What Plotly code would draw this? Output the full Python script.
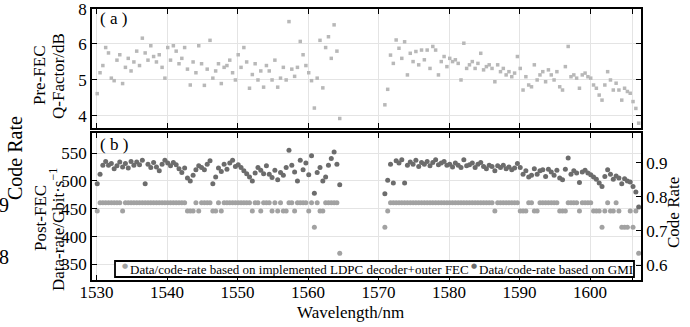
import plotly.graph_objects as go

# ---------------- data ----------------
# channel wavelengths (nm): C-band block and L-band block
wl_c = [round(1530.1 + 0.4 * i, 1) for i in range(87)]
wl_l = [round(1570.9 + 0.4 * i, 1) for i in range(91)]
wavelength = wl_c + wl_l

# (a) Pre-FEC Q-factor (dB)
q_c = [4.62, 5.20, 5.40, 5.90, 5.75, 5.05, 4.98, 5.55, 5.70, 4.90,
       5.35, 5.60, 5.25, 5.50, 5.80, 5.40, 6.16, 5.75, 5.55, 5.95,
       5.65, 5.50, 5.70, 5.35, 5.05, 5.90, 5.55, 5.95, 5.80, 5.45,
       5.60, 5.90, 5.30, 4.86, 5.50, 5.20, 5.95, 5.45, 4.85, 5.30,
       6.10, 5.05, 5.25, 5.45, 4.90, 5.35, 5.40, 5.55, 5.20, 5.00,
       5.70, 5.35, 5.90, 5.50, 4.77, 5.15, 5.45, 5.00, 5.25, 4.80,
       5.40, 5.25, 5.00, 5.55, 4.80, 5.05, 5.35, 5.00, 6.62, 5.30,
       5.10, 5.35, 6.07, 5.70, 5.40, 5.20, 4.98, 4.22, 5.05, 6.10,
       4.78, 5.90, 6.20, 5.60, 6.53, 5.80, 3.93]
q_l = [4.31, 4.74, 5.69, 5.46, 6.11, 5.88, 5.60, 6.06, 5.14, 5.74,
       5.51, 5.79, 5.42, 5.83, 5.56, 5.83, 5.32, 5.93, 5.83, 5.14,
       5.51, 5.65, 5.37, 5.60, 5.51, 5.56, 5.46, 5.00, 6.02, 5.32,
       5.42, 5.51, 5.32, 5.46, 5.74, 5.28, 5.37, 5.42, 5.32, 4.95,
       5.42, 5.23, 5.32, 5.14, 5.23, 5.09, 5.19, 5.65, 5.32, 4.72,
       5.09, 4.86, 4.81, 5.42, 5.00, 5.14, 5.23, 4.95, 5.28, 5.14,
       5.00, 5.23, 4.81, 4.72, 5.37, 5.93, 5.09, 5.14, 5.05, 4.77,
       5.14, 5.19, 5.09, 5.05, 4.86, 4.77, 4.58, 4.44, 4.86, 5.23,
       5.00, 4.72, 4.91, 4.72, 4.44, 4.77, 4.68, 4.63, 4.40, 4.21, 3.80]
q_factor = q_c + q_l

# (b) Post-FEC data rate (Gbit/s) based on GMI
gmi_c = [495, 512, 528, 535, 528, 531, 522, 527, 534, 525,
         531, 523, 535, 528, 534, 529, 537, 495, 530, 524,
         533, 525, 518, 530, 537, 532, 527, 533, 529, 522,
         515, 523, 505, 500, 510, 520, 527, 524, 520, 530,
         536, 495, 507, 523, 517, 530, 521, 532, 537, 526,
         529, 524, 518, 513, 507, 500, 514, 524, 519, 513,
         527, 512, 506, 519, 502, 515, 510, 524, 555, 528,
         516, 500, 537, 520, 532, 511, 545, 478, 515, 524,
         500, 507, 528, 540, 552, 530, 493]
gmi_l = [477, 501, 530, 496, 536, 532, 538, 496, 528, 534,
         530, 537, 526, 533, 530, 535, 527, 533, 538, 529,
         532, 535, 528, 530, 525, 532, 528, 524, 538, 527,
         529, 532, 524, 530, 533, 526, 522, 528, 526, 518,
         527, 524, 528, 522, 525, 520, 523, 531, 524, 512,
         518, 507, 510, 522, 512, 518, 520, 508, 521, 516,
         510, 519, 505, 502, 521, 541, 512, 518, 514, 497,
         516, 519, 514, 511, 507, 503, 496, 490, 508, 520,
         512, 503, 509, 505, 495, 504, 500, 498, 490, 480, 453]
rate_gmi = gmi_c + gmi_l

# (b) Post-FEC data rate (Gbit/s) with implemented LDPC decoder + outer FEC
ldpc_c = [446, 461, 461, 461, 461, 461, 461, 461, 461, 446,
          461, 461, 461, 461, 461, 461, 461, 461, 461, 461,
          461, 461, 461, 461, 461, 461, 461, 461, 461, 461,
          461, 461, 446, 446, 446, 461, 446, 461, 461, 461,
          461, 446, 446, 461, 446, 461, 461, 461, 461, 461,
          461, 461, 461, 461, 461, 446, 461, 461, 446, 461,
          461, 461, 446, 461, 446, 461, 446, 446, 461, 461,
          446, 461, 461, 461, 461, 446, 461, 417, 461, 446,
          446, 461, 461, 461, 461, 461, 370]
ldpc_l = [417, 446, 461, 461, 461, 461, 461, 461, 461, 461,
          461, 461, 461, 461, 461, 461, 461, 461, 461, 461,
          461, 461, 461, 461, 461, 461, 461, 461, 461, 461,
          461, 461, 461, 461, 461, 461, 461, 461, 461, 446,
          461, 461, 461, 461, 461, 461, 461, 461, 446, 446,
          446, 461, 461, 446, 446, 461, 461, 461, 461, 461,
          461, 461, 446, 446, 446, 461, 461, 461, 461, 446,
          461, 461, 461, 461, 446, 446, 446, 417, 446, 461,
          446, 446, 461, 446, 417, 417, 417, 446, 417, 446, 370]
rate_ldpc = ldpc_c + ldpc_l

x_ticks = [1530, 1540, 1550, 1560, 1570, 1580, 1590, 1600, 1606]
x_tick_text = ["1530", "1540", "1550", "1560", "1570", "1580", "1590", "1600", " "]
q_ticks = [4, 5, 6, 6.97]
q_tick_text = ["4", "5", "6", "8"]
rate_ticks = [350, 400, 450, 500, 550]
code_rate_ticks = [0.6, 0.7, 0.8, 0.9]

LEG1 = "Data/code-rate based on implemented LDPC decoder+outer FEC"
LEG2 = "Data/code-rate based on GMI"
C_TOP = "#b8b8b8"
C_LDPC = "#a2a2a2"
C_GMI = "#6c6c6c"

# ---------------- figure ----------------
FONT = "Liberation Serif"
fig = go.Figure()
fig.add_trace(go.Scatter(x=wavelength, y=q_factor, mode="markers",
                         marker=dict(size=3.5, color=C_TOP, symbol="square"),
                         xaxis="x", yaxis="y", showlegend=False))
fig.add_trace(go.Scatter(x=wavelength, y=rate_ldpc, mode="markers", name=LEG1,
                         marker=dict(size=5, color=C_LDPC),
                         xaxis="x2", yaxis="y2", showlegend=False))
fig.add_trace(go.Scatter(x=wavelength, y=rate_gmi, mode="markers", name=LEG2,
                         marker=dict(size=5, color=C_GMI),
                         xaxis="x2", yaxis="y2", showlegend=False))
fig.add_trace(go.Scatter(x=[], y=[], xaxis="x2", yaxis="y3", showlegend=False))

axis_common = dict(showline=True, linecolor="black", linewidth=1.5,
                   ticks="inside", ticklen=5, tickcolor="black", tickwidth=1.2,
                   zeroline=False, automargin=False, ticklabeloverflow="allow",
                   tickfont=dict(family=FONT, size=17, color="black"))

X0, X1 = 1529.36, 1607.23
fig.update_layout(
    width=690, height=327,
    margin=dict(l=92, r=49, t=9, b=47),
    paper_bgcolor="white", plot_bgcolor="white",
    font=dict(family=FONT, size=16, color="black"),
    showlegend=False,
    xaxis=dict(domain=[0, 1], anchor="y", range=[X0, X1], tickvals=x_ticks,
               showticklabels=False, mirror="ticks", gridcolor="#e4e4e4", **axis_common),
    xaxis2=dict(domain=[0, 1], anchor="y2", range=[X0, X1], tickvals=x_ticks,
                ticktext=x_tick_text, mirror="ticks", gridcolor="#e4e4e4",
                ticklabelstandoff=-4, **axis_common),
    yaxis=dict(domain=[0.561, 1], anchor="x", range=[3.667, 6.97],
               tickvals=q_ticks, ticktext=q_tick_text, mirror="ticks",
               gridcolor="#e4e4e4", **axis_common),
    yaxis2=dict(domain=[0, 0.5424], anchor="x2", range=[322.2, 585.9],
                tickvals=rate_ticks, mirror=True, gridcolor="#e4e4e4", **axis_common),
    yaxis3=dict(overlaying="y2", anchor="x2", side="right", range=[0.556, 0.988],
                tickvals=code_rate_ticks, showgrid=False, **axis_common),
)


def px_x(px):
    return (px - 92) / 549


def px_y(py):
    return (280 - py) / 271


# legend frame (drawn in paper space inside panel b)
fig.add_shape(type="rect", xref="paper", yref="paper",
              x0=px_x(115), x1=px_x(634), y0=px_y(277), y1=px_y(261),
              line=dict(color="black", width=1.8), fillcolor="white", layer="above")

ann = [
    dict(text="( a )", x=px_x(99), y=px_y(18), xanchor="left", yanchor="middle", size=17, angle=0),
    dict(text="( b )", x=px_x(99), y=px_y(144), xanchor="left", yanchor="middle", size=17, angle=0),
    dict(text="Pre-FEC", x=px_x(39), y=px_y(75), xanchor="center", yanchor="middle", size=17, angle=-90),
    dict(text="Q-Factor/dB", x=px_x(58), y=px_y(76), xanchor="center", yanchor="middle", size=17, angle=-90),
    dict(text="Post-FEC", x=px_x(40), y=px_y(218), xanchor="center", yanchor="middle", size=17, angle=-90),
    dict(text="Data-rate/Gbit·s<sup>−1</sup>", x=px_x(57), y=px_y(230), xanchor="center",
         yanchor="middle", size=17, angle=-90),
    dict(text="Code Rate", x=px_x(673), y=px_y(213), xanchor="center", yanchor="middle", size=17, angle=-90),
    dict(text="Wavelength/nm", x=px_x(350), y=px_y(312), xanchor="center", yanchor="middle", size=17, angle=0),
    dict(text="Code Rate", x=px_x(15), y=px_y(158), xanchor="center", yanchor="middle", size=20, angle=-90),
    dict(text="0.9", x=px_x(10), y=px_y(205), xanchor="right", yanchor="middle", size=20, angle=0),
    dict(text="0.8", x=px_x(10), y=px_y(257), xanchor="right", yanchor="middle", size=20, angle=0),
    dict(text=LEG1, x=px_x(129), y=px_y(269.5), xanchor="left", yanchor="middle", size=13, angle=0),
    dict(text=LEG2, x=px_x(478), y=px_y(269.5), xanchor="left", yanchor="middle", size=13, angle=0),
]
for a in ann:
    fig.add_annotation(text=a["text"], x=a["x"], y=a["y"], xref="paper", yref="paper",
                       xanchor=a["xanchor"], yanchor=a["yanchor"], textangle=a["angle"],
                       showarrow=False, borderpad=0,
                       font=dict(family=FONT, size=a["size"], color="black"))

# legend symbols
for px, col in [(125, C_LDPC), (474, C_GMI)]:
    fig.add_annotation(text="●", x=px_x(px), y=px_y(266), xref="paper", yref="paper",
                       xanchor="center", yanchor="middle", showarrow=False, borderpad=0,
                       font=dict(family="DejaVu Sans", size=7, color=col))

fig.write_html("out.html", config={"displayModeBar": False},
               post_script="document.body.style.margin='0px';document.body.style.overflow='hidden';")
